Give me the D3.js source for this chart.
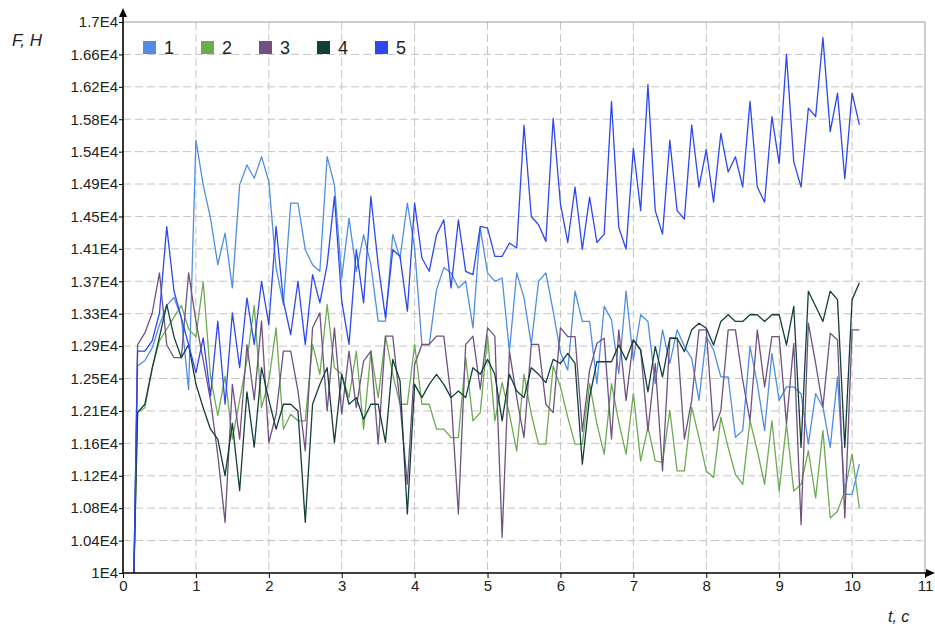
<!DOCTYPE html>
<html>
<head>
<meta charset="utf-8">
<script src="https://cdn.jsdelivr.net/npm/d3@7"></script>
<style>
  body { margin: 0; background: #fff; }
  svg { display: block; font-family: "Liberation Sans", Arial, sans-serif; }
</style>
</head>
<body>
<div id="chart"></div>
<script>
// sample times: first point at the start jump, then every 0.1 s up to 10.1
const tStart = 0.15;
const times = [tStart].concat(d3.range(2, 102).map(i => i / 10));

const seriesNames = ["1", "2", "3", "4", "5"];
const seriesColors = ["#4f8ee3", "#6dab52", "#6f5282", "#123f3a", "#2c48ee"];

const s1 = [10000,
  12630, 12700, 12860, 13150, 13400, 13500, 13250, 12330, 15500,
  14931, 14508, 13917, 14318, 13622, 14931, 15184, 15015, 15290, 14973,
  13875, 13411, 14698, 14698, 14107, 13917, 13833, 15290, 14931, 13748,
  14508, 13833, 14297, 13917, 13200, 13200, 14300, 14000, 14698, 14128,
  12900, 12900, 13600, 13880, 13812, 13622, 13706, 13115, 14382, 13812,
  13706, 13748, 12819, 13812, 13495, 12904, 13706, 13812, 13326, 12800,
  12577, 13580, 13196, 13196, 12406, 13388, 13217, 12534, 13580, 12705,
  13281, 13196, 12406, 13089, 12662, 13089, 12876, 12726, 12193, 13004,
  12833, 12492, 12492, 11724, 11809, 12876, 12406, 11809, 12790, 12193,
  12364, 12364, 12278, 11638, 12278, 12108, 11596, 12492, 10998, 10998, 11382];

const s2 = [10000,
  12040, 12100, 12600, 12950, 13100, 13250, 13400, 13100, 13000,
  13700, 12500, 12000, 12500, 11700, 12200, 12700, 13400, 12100, 12440,
  13115, 11827, 12017, 11933, 11933, 12904, 12524, 13411, 12608, 12524,
  12228, 12819, 11827, 12819, 12228, 13009, 12524, 12144, 12144, 12904,
  12144, 12144, 11827, 11827, 11721, 11721, 12735, 11933, 12038, 13009,
  11933, 12418, 12017, 11552, 12524, 12017, 11637, 11637, 12629, 12364,
  11980, 11638, 11638, 12406, 11894, 11510, 12406, 11916, 11510, 12278,
  11425, 11852, 11425, 11404, 12065, 11297, 11297, 12108, 11724, 11297,
  11212, 11980, 11596, 11254, 11126, 11937, 11553, 11126, 11937, 11041,
  11894, 11041, 11126, 11553, 10955, 11809, 10700, 10785, 11041, 11510, 10828];

const s3 = [10000,
  12900, 13050, 13300, 13812, 12900, 12735, 12735, 13812, 13200,
  12700, 12200, 11500, 10644, 12397, 11700, 12900, 12200, 13200, 11658,
  12017, 12819, 12819, 12313, 11552, 13115, 13305, 12059, 13115, 12017,
  12819, 12101, 12693, 12819, 11637, 13009, 13009, 12144, 11130, 12650,
  12904, 12904, 13009, 13009, 12228, 10750, 12904, 13009, 12334, 13115,
  13009, 10454, 12819, 12228, 11721, 12904, 12904, 12144, 12038, 13115,
  13004, 13004, 11800, 12577, 12918, 12982, 11702, 13089, 12193, 12961,
  12833, 11809, 12662, 11297, 12982, 12982, 11702, 12193, 13089, 13089,
  11809, 12065, 13089, 13089, 12449, 11937, 13089, 12364, 13004, 13004,
  11894, 12918, 10614, 13174, 12662, 12108, 13046, 12961, 10700, 13089, 13089];

const s4 = [10000,
  12040, 12144, 12600, 13000, 13410, 13000, 12735, 12900, 12400,
  12100, 11827, 11700, 11236, 11900, 11048, 12300, 11600, 12608, 12200,
  11827, 12144, 12144, 12059, 10644, 12144, 12397, 12608, 11658, 12524,
  12144, 12228, 11954, 12144, 12144, 11658, 12714, 12439, 10750, 12397,
  12228, 12397, 12524, 12397, 12228, 12313, 12228, 12608, 12524, 12714,
  12524, 11933, 12524, 12313, 12228, 12608, 12524, 12418, 12714, 12662,
  12790, 12662, 11382, 12236, 12684, 12684, 12684, 12897, 12705, 12961,
  12833, 12300, 12876, 12492, 12982, 12982, 12812, 13089, 13174, 13110,
  12897, 13196, 13281, 13196, 13196, 13281, 13281, 13196, 13281, 13281,
  12897, 13388, 11596, 13580, 13388, 13196, 13580, 13473, 11596, 13473, 13686];

const s5 = [10000,
  12819, 12819, 12950, 13300, 14400, 13580, 13241, 12900, 12545,
  12988, 12249, 13199, 12143, 13304, 12608, 13495, 12904, 13706, 13157,
  14403, 13453, 13030, 13706, 12904, 13790, 13432, 13917, 14783, 13453,
  12904, 14107, 13432, 14783, 13917, 13241, 14107, 14023, 13326, 14699,
  14002, 13833, 14297, 14487, 13622, 14487, 13833, 13790, 14403, 14382,
  14023, 14023, 14192, 14128, 15691, 14529, 14424, 14213, 15775, 14690,
  14199, 14903, 14113, 14775, 14199, 14305, 15991, 14391, 14113, 15393,
  14604, 16204, 14604, 14305, 15500, 14604, 14497, 15692, 14903, 15380,
  14711, 15585, 15095, 15287, 14903, 15991, 14903, 14711, 15799, 15201,
  16588, 15223, 14903, 15905, 15799, 16801, 15607, 16097, 15009, 16097, 15692];

const allSeries = [s1, s2, s3, s4, s5];

const xTicks = [0, 1, 2, 3, 4, 5, 6, 7, 8, 9, 10, 11];
const yTickLabels = ["1E4", "1.04E4", "1.08E4", "1.12E4", "1.16E4", "1.21E4", "1.25E4", "1.29E4", "1.33E4",
  "1.37E4", "1.41E4", "1.45E4", "1.49E4", "1.54E4", "1.58E4", "1.62E4", "1.66E4", "1.7E4"];
const yMin = 10000, yMax = 17000;

const width = 935, height = 628;
const plotLeft = 123, plotRight = 925, plotTop = 22, plotBottom = 573;

const svg = d3.select("#chart").append("svg")
  .attr("width", width)
  .attr("height", height);

const x = d3.scaleLinear().domain([0, 11]).range([plotLeft, plotRight]);
const y = d3.scaleLinear().domain([yMin, yMax]).range([plotBottom, plotTop]);
const yTicks = yTickLabels.map((d, i) => yMin + i * (yMax - yMin) / (yTickLabels.length - 1));

// grid
svg.append("g")
  .selectAll("line")
  .data(yTicks.slice(1, -1))
  .enter().append("line")
  .attr("x1", plotLeft).attr("x2", plotRight)
  .attr("y1", d => y(d)).attr("y2", d => y(d))
  .attr("stroke", "#c4c4c4")
  .attr("stroke-dasharray", "8,4");
svg.append("g")
  .selectAll("line")
  .data(xTicks.slice(1, -1))
  .enter().append("line")
  .attr("x1", d => x(d)).attr("x2", d => x(d))
  .attr("y1", plotTop).attr("y2", plotBottom)
  .attr("stroke", "#c4c4c4")
  .attr("stroke-dasharray", "8,4");

// frame top + right
svg.append("path")
  .attr("d", `M${plotLeft},${plotTop}H${plotRight}V${plotBottom}`)
  .attr("fill", "none")
  .attr("stroke", "#9a9a9a");

// series
const line = d3.line()
  .x((d, i) => x(times[i]))
  .y(d => y(d));
svg.append("g")
  .selectAll("path")
  .data(allSeries)
  .enter().append("path")
  .attr("d", line)
  .attr("fill", "none")
  .attr("stroke", (d, i) => seriesColors[i])
  .attr("stroke-width", 1.3)
  .attr("stroke-linejoin", "round");

// axes
const yAxis = d3.axisLeft(y)
  .tickValues(yTicks)
  .tickFormat((d, i) => yTickLabels[i])
  .tickSize(4)
  .tickPadding(1);
const gy = svg.append("g")
  .attr("transform", `translate(${plotLeft},0)`)
  .call(yAxis);
gy.select(".domain").remove();
gy.selectAll("line").attr("stroke", "#000");
gy.selectAll("text").attr("font-size", 15).attr("fill", "#222")
  .attr("font-family", "Liberation Sans, Arial, sans-serif");

const xAxis = d3.axisBottom(x)
  .tickValues(xTicks)
  .tickSize(5)
  .tickPadding(2);
const gx = svg.append("g")
  .attr("transform", `translate(0,${plotBottom})`)
  .call(xAxis);
gx.select(".domain").remove();
gx.selectAll("line").attr("stroke", "#000");
gx.selectAll("text").attr("font-size", 15).attr("fill", "#222")
  .attr("font-family", "Liberation Sans, Arial, sans-serif");

// axis lines with arrows
svg.append("line")
  .attr("x1", plotLeft).attr("x2", plotLeft)
  .attr("y1", plotBottom).attr("y2", 12)
  .attr("stroke", "#000").attr("stroke-width", 1.6);
svg.append("path")
  .attr("d", `M${plotLeft - 4},17L${plotLeft},8L${plotLeft + 4},17Z`)
  .attr("fill", "#000");
svg.append("line")
  .attr("x1", plotLeft).attr("x2", 930)
  .attr("y1", plotBottom).attr("y2", plotBottom)
  .attr("stroke", "#000").attr("stroke-width", 1.6);
svg.append("path")
  .attr("d", `M926,${plotBottom - 4}L935,${plotBottom}L926,${plotBottom + 4}Z`)
  .attr("fill", "#000");

// axis titles
svg.append("text")
  .attr("x", 12).attr("y", 46)
  .attr("font-size", 17).attr("font-style", "italic").attr("fill", "#222")
  .text("F, H");
svg.append("text")
  .attr("x", 888).attr("y", 622)
  .attr("font-size", 16).attr("font-style", "italic").attr("fill", "#222")
  .text("t, c");

// legend
const legend = svg.append("g")
  .selectAll("g")
  .data(seriesNames)
  .enter().append("g")
  .attr("transform", (d, i) => `translate(${143 + i * 58},41)`);
legend.append("rect")
  .attr("width", 13).attr("height", 13)
  .attr("fill", (d, i) => seriesColors[i]);
legend.append("text")
  .attr("x", 21).attr("y", 13)
  .attr("font-size", 18).attr("fill", "#222")
  .text(d => d);
</script>
</body>
</html>
